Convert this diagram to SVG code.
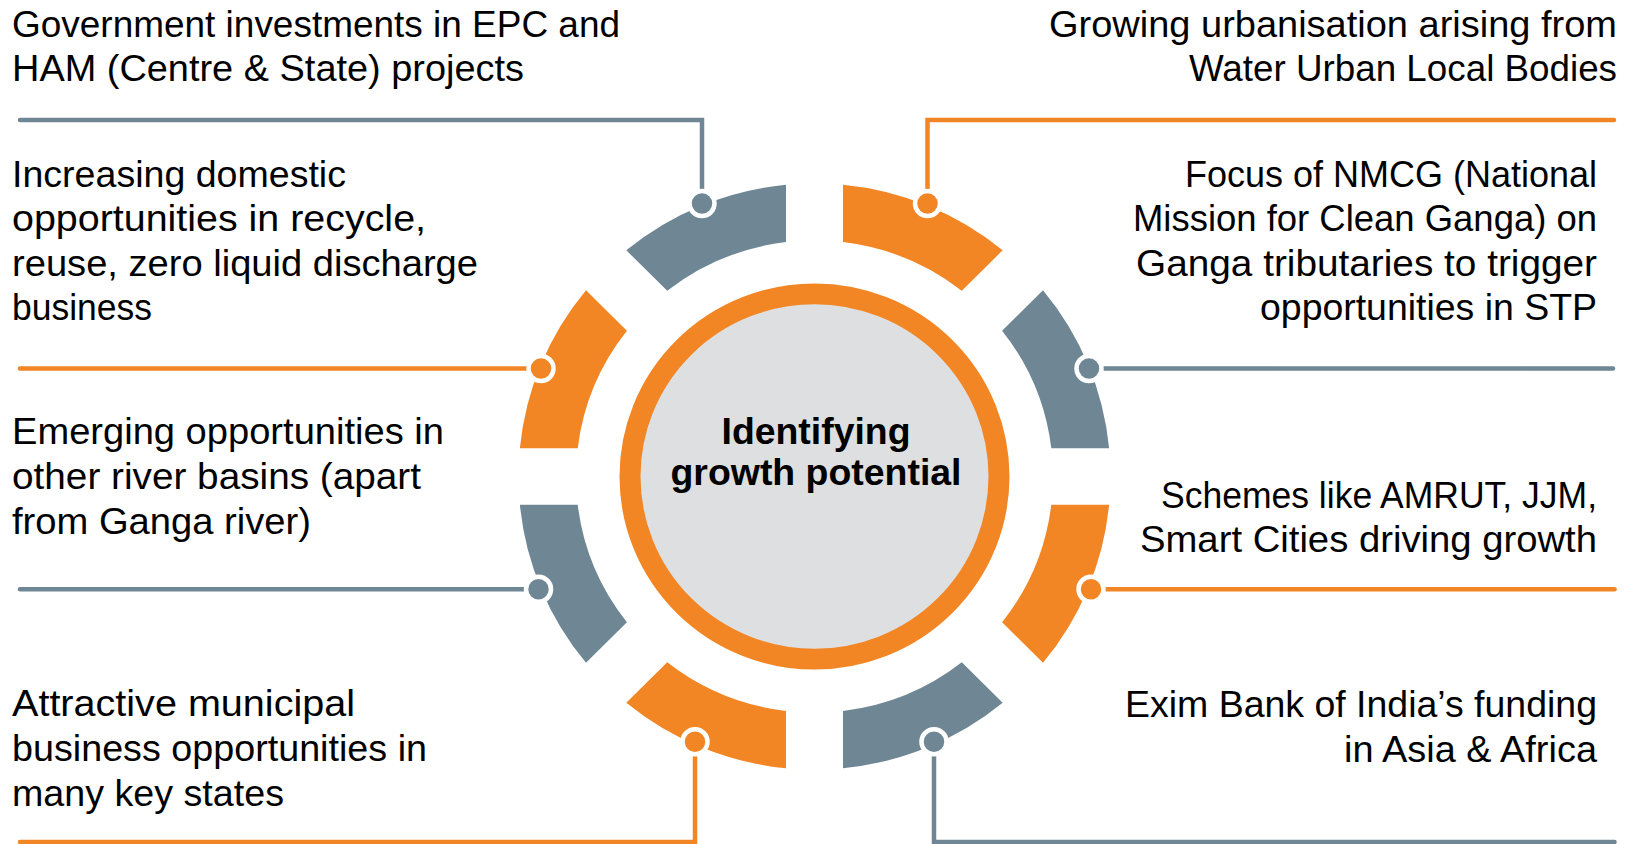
<svg xmlns="http://www.w3.org/2000/svg" width="1628" height="844" viewBox="0 0 1628 844">
<style>
  .o{fill:#F28524}
  .g{fill:#6F8795}
  .lo{fill:none;stroke:#F28524;stroke-width:4.5;stroke-linecap:round}
  .lg{fill:none;stroke:#6F8795;stroke-width:4.5;stroke-linecap:round}
  .dot{stroke:#FFFFFF;stroke-width:4.5}
  .t{font-family:"Liberation Sans",Arial,sans-serif;font-size:37px;fill:#000}
  .r{text-anchor:end}
  .c{font-family:"Liberation Sans",Arial,sans-serif;font-size:37px;font-weight:bold;fill:#000;text-anchor:middle}
</style>
<rect width="1628" height="844" fill="#FFFFFF"/>
<g id="hub" transform="translate(814.5,476.5) scale(1,0.99)">
  <path class="o" d="M294.62,28.5 A296,296 0 0 1 228.48,188.18 L187.59,147.28 A238.5,238.5 0 0 0 236.79,28.5 Z"/>
  <path class="g" d="M188.18,228.48 A296,296 0 0 1 28.5,294.62 L28.5,236.79 A238.5,238.5 0 0 0 147.28,187.59 Z"/>
  <path class="o" d="M-28.5,294.62 A296,296 0 0 1 -188.18,228.48 L-147.28,187.59 A238.5,238.5 0 0 0 -28.5,236.79 Z"/>
  <path class="g" d="M-228.48,188.18 A296,296 0 0 1 -294.62,28.5 L-236.79,28.5 A238.5,238.5 0 0 0 -187.59,147.28 Z"/>
  <path class="o" d="M-294.62,-28.5 A296,296 0 0 1 -228.48,-188.18 L-187.59,-147.28 A238.5,238.5 0 0 0 -236.79,-28.5 Z"/>
  <path class="g" d="M-188.18,-228.48 A296,296 0 0 1 -28.5,-294.62 L-28.5,-236.79 A238.5,238.5 0 0 0 -147.28,-187.59 Z"/>
  <path class="o" d="M28.5,-294.62 A296,296 0 0 1 188.18,-228.48 L147.28,-187.59 A238.5,238.5 0 0 0 28.5,-236.79 Z"/>
  <path class="g" d="M228.48,-188.18 A296,296 0 0 1 294.62,-28.5 L236.79,-28.5 A238.5,238.5 0 0 0 187.59,-147.28 Z"/>
  <circle r="184.5" fill="#DEDFE1" stroke="#F28524" stroke-width="21"/>
</g>
<g id="center-label">
  <text class="c" x="816" y="443.5" textLength="189" lengthAdjust="spacingAndGlyphs">Identifying</text>
  <text class="c" x="816" y="485" textLength="291" lengthAdjust="spacingAndGlyphs">growth potential</text>
</g>
<g id="connectors">
  <polyline class="lg" points="20,120 702,120 702,203"/>
  <polyline class="lo" points="1614,120 927.5,120 927.5,203"/>
  <polyline class="lo" points="20,368.5 541,368.5"/>
  <polyline class="lg" points="1089,368.5 1613,368.5"/>
  <polyline class="lg" points="20,589.3 538.5,589.3"/>
  <polyline class="lo" points="1091,589.3 1614.5,589.3"/>
  <polyline class="lo" points="695,742 695,842 20,842"/>
  <polyline class="lg" points="934,742 934,842 1614.5,842"/>
</g>
<g id="dots">
  <circle class="g dot" cx="702" cy="203.5" r="12.5"/>
  <circle class="o dot" cx="927.5" cy="203.5" r="12.5"/>
  <circle class="g dot" cx="1089" cy="368.5" r="12.5"/>
  <circle class="o dot" cx="1091" cy="589.3" r="12.5"/>
  <circle class="g dot" cx="934" cy="741.7" r="12.5"/>
  <circle class="o dot" cx="695" cy="741.7" r="12.5"/>
  <circle class="g dot" cx="538.5" cy="589.3" r="12.5"/>
  <circle class="o dot" cx="541" cy="368.5" r="12.5"/>
</g>
<g id="node-government">
  <text class="t" x="12" y="36.5" textLength="608" lengthAdjust="spacingAndGlyphs">Government investments in EPC and</text>
  <text class="t" x="12" y="80.5" textLength="512" lengthAdjust="spacingAndGlyphs">HAM (Centre &amp; State) projects</text>
</g>
<g id="node-urbanisation">
  <text class="t r" x="1617" y="36.5" textLength="568" lengthAdjust="spacingAndGlyphs">Growing urbanisation arising from</text>
  <text class="t r" x="1617" y="80.5" textLength="428" lengthAdjust="spacingAndGlyphs">Water Urban Local Bodies</text>
</g>
<g id="node-domestic">
  <text class="t" x="12" y="186.7" textLength="334" lengthAdjust="spacingAndGlyphs">Increasing domestic</text>
  <text class="t" x="12" y="231.2" textLength="414" lengthAdjust="spacingAndGlyphs">opportunities in recycle,</text>
  <text class="t" x="12" y="275.7" textLength="466" lengthAdjust="spacingAndGlyphs">reuse, zero liquid discharge</text>
  <text class="t" x="12" y="320.2" textLength="140" lengthAdjust="spacingAndGlyphs">business</text>
</g>
<g id="node-nmcg">
  <text class="t r" x="1597" y="186.7" textLength="412" lengthAdjust="spacingAndGlyphs">Focus of NMCG (National</text>
  <text class="t r" x="1597" y="231.2" textLength="464" lengthAdjust="spacingAndGlyphs">Mission for Clean Ganga) on</text>
  <text class="t r" x="1597" y="275.7" textLength="461" lengthAdjust="spacingAndGlyphs">Ganga tributaries to trigger</text>
  <text class="t r" x="1597" y="320.2" textLength="337" lengthAdjust="spacingAndGlyphs">opportunities in STP</text>
</g>
<g id="node-river-basins">
  <text class="t" x="12" y="444" textLength="432" lengthAdjust="spacingAndGlyphs">Emerging opportunities in</text>
  <text class="t" x="12" y="489" textLength="409" lengthAdjust="spacingAndGlyphs">other river basins (apart</text>
  <text class="t" x="12" y="534" textLength="299" lengthAdjust="spacingAndGlyphs">from Ganga river)</text>
</g>
<g id="node-schemes">
  <text class="t r" x="1597" y="508.3" textLength="436" lengthAdjust="spacingAndGlyphs">Schemes like AMRUT, JJM,</text>
  <text class="t r" x="1597" y="551.7" textLength="457" lengthAdjust="spacingAndGlyphs">Smart Cities driving growth</text>
</g>
<g id="node-municipal">
  <text class="t" x="12" y="716" textLength="343" lengthAdjust="spacingAndGlyphs">Attractive municipal</text>
  <text class="t" x="12" y="761" textLength="415" lengthAdjust="spacingAndGlyphs">business opportunities in</text>
  <text class="t" x="12" y="806" textLength="272" lengthAdjust="spacingAndGlyphs">many key states</text>
</g>
<g id="node-exim">
  <text class="t r" x="1597" y="716.7" textLength="472" lengthAdjust="spacingAndGlyphs">Exim Bank of India’s funding</text>
  <text class="t r" x="1597" y="761.7" textLength="253" lengthAdjust="spacingAndGlyphs">in Asia &amp; Africa</text>
</g>
</svg>
